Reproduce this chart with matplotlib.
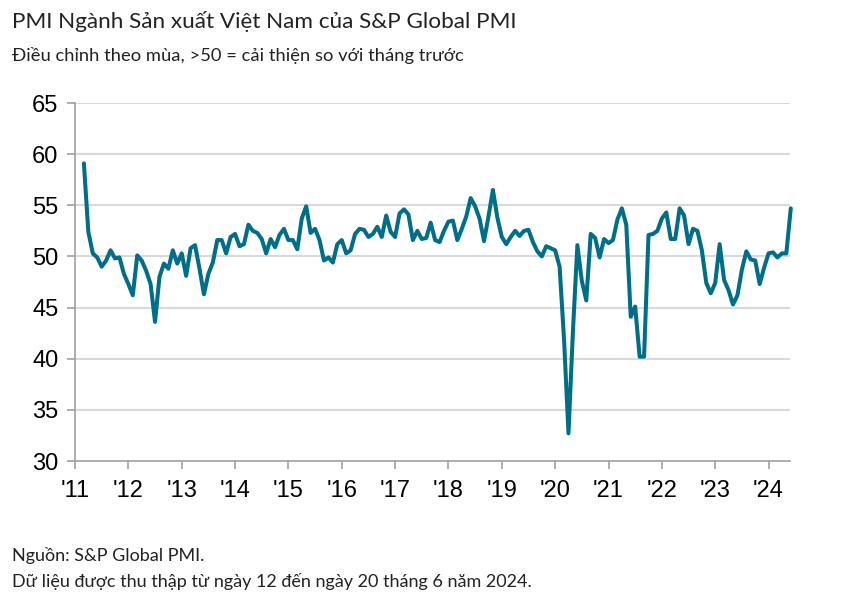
import numpy as np
import matplotlib
matplotlib.use("Agg")
import matplotlib.pyplot as plt

# Monthly PMI, Mar 2011 - Jun 2024
start_year = 2011
start_month = 3
pmi = [
    # 2011 (Mar-Dec)
    59.1, 52.4, 50.3, 49.9, 49.0, 49.6, 50.6, 49.8, 49.9, 48.3,
    # 2012
    47.3, 46.2, 50.1, 49.6, 48.6, 47.3, 43.6, 48.0, 49.3, 48.8, 50.6, 49.3,
    # 2013
    50.3, 48.1, 50.8, 51.1, 48.8, 46.3, 48.3, 49.4, 51.6, 51.6, 50.3, 51.9,
    # 2014
    52.2, 51.0, 51.2, 53.1, 52.5, 52.3, 51.7, 50.3, 51.7, 50.9, 52.1, 52.7,
    # 2015
    51.6, 51.6, 50.7, 53.7, 54.9, 52.3, 52.7, 51.6, 49.6, 49.9, 49.4, 51.2,
    # 2016
    51.6, 50.3, 50.6, 52.2, 52.7, 52.6, 51.9, 52.2, 52.9, 51.9, 54.0, 52.4,
    # 2017
    51.9, 54.2, 54.6, 54.1, 51.6, 52.5, 51.7, 51.8, 53.3, 51.6, 51.4, 52.5,
    # 2018
    53.4, 53.5, 51.6, 52.7, 53.9, 55.7, 54.9, 53.7, 51.5, 53.9, 56.5, 53.8,
    # 2019
    51.9, 51.2, 51.9, 52.5, 52.0, 52.5, 52.6, 51.4, 50.5, 50.0, 51.0, 50.8,
    # 2020
    50.6, 49.0, 41.9, 32.7, 42.7, 51.1, 47.6, 45.7, 52.2, 51.8, 49.9, 51.7,
    # 2021
    51.3, 51.6, 53.6, 54.7, 53.1, 44.1, 45.1, 40.2, 40.2, 52.1, 52.2, 52.5,
    # 2022
    53.7, 54.3, 51.7, 51.7, 54.7, 54.0, 51.2, 52.7, 52.5, 50.6, 47.4, 46.4,
    # 2023
    47.4, 51.2, 47.7, 46.7, 45.3, 46.2, 48.7, 50.5, 49.7, 49.6, 47.3, 48.9,
    # 2024 (Jan-Jun)
    50.3, 50.4, 49.9, 50.3, 50.3, 54.7,
]

years = list(range(2011, 2025))
year_labels = ["'" + str(y)[2:] for y in years]
y_ticks = [30, 35, 40, 45, 50, 55, 60, 65]

title = "PMI Ngành Sản xuất Việt Nam của S&P Global PMI"
subtitle = "Điều chỉnh theo mùa, >50 = cải thiện so với tháng trước"
source = "Nguồn: S&P Global PMI."
note = "Dữ liệu được thu thập từ ngày 12 đến ngày 20 tháng 6 năm 2024."

# decimal-year x positions
t = start_year + (start_month - 1) / 12 + np.arange(len(pmi)) / 12

text_font = ["Lato", "Noto Sans", "DejaVu Sans"]
tick_font = ["Liberation Sans Narrow", "Liberation Sans", "DejaVu Sans"]

fig = plt.figure(figsize=(8.57, 6.14), dpi=100)
ax = fig.add_axes([75 / 857, 1 - 461 / 614, 715 / 857, 358 / 614])

for yv in y_ticks[1:]:
    ax.axhline(yv, color="#d9d9d9", lw=1.5, zorder=1)

ax.plot(t, pmi, color="#006e88", lw=2.9, solid_joinstyle="round",
        solid_capstyle="round", clip_on=False, zorder=3)

ax.set_xlim(2011, 2011 + 715 / 53.35)
ax.set_ylim(30, 65)
ax.set_xticks(years)
ax.set_xticklabels(year_labels)
ax.set_yticks(y_ticks)

for s in ["top", "right"]:
    ax.spines[s].set_visible(False)
for s in ["left", "bottom"]:
    ax.spines[s].set_color("#a0a0a0")
    ax.spines[s].set_linewidth(1.2)

ax.tick_params(axis="both", colors="#a0a0a0", width=1.2, length=6,
               labelcolor="black", labelsize=17)
ax.tick_params(axis="x", pad=8)
ax.tick_params(axis="y", pad=6)
for lab in ax.get_xticklabels() + ax.get_yticklabels():
    lab.set_family(tick_font)

fig.text(12 / 857, 1 - 22 / 614, title, fontsize=16.2, color="#222222",
         family=text_font, va="center", ha="left")
fig.text(12 / 857, 1 - 55 / 614, subtitle, fontsize=13.2, color="#222222",
         family=text_font, va="center", ha="left")
fig.text(12 / 857, 1 - 555 / 614, source, fontsize=13, color="#222222",
         family=text_font, va="center", ha="left")
fig.text(12 / 857, 1 - 582 / 614, note, fontsize=13, color="#222222",
         family=text_font, va="center", ha="left")

fig.savefig("out.png", dpi=100, facecolor="white")
